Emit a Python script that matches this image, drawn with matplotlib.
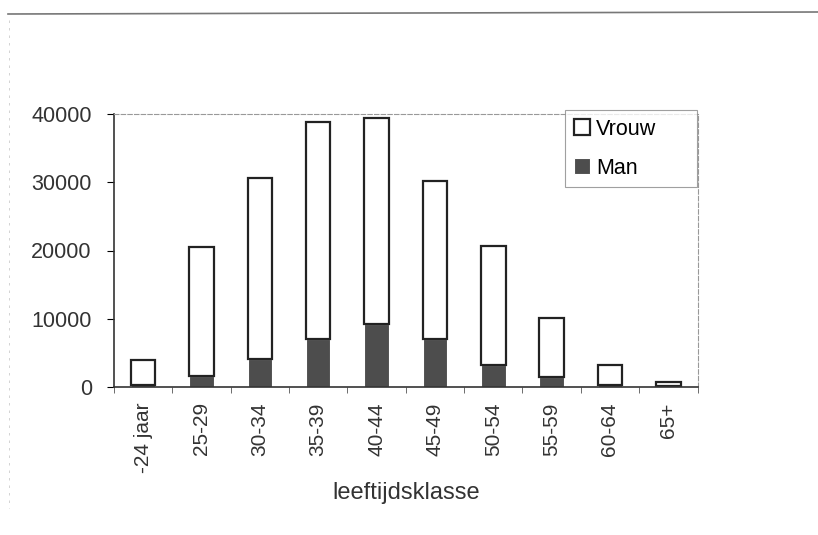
import numpy as np
import matplotlib
matplotlib.use("Agg")
import matplotlib.pyplot as plt

plt.rcParams['font.family'] = ['Liberation Sans', 'DejaVu Sans']

klassen = ['-24 jaar', '25-29', '30-34', '35-39', '40-44', '45-49',
           '50-54', '55-59', '60-64', '65+']
man = [300, 1650, 4050, 7100, 9200, 7100, 3250, 1500, 250, 150]
totaal = [3950, 20550, 30550, 38900, 39450, 30200, 20700, 10150, 3200, 700]
vrouw = [t - m for t, m in zip(totaal, man)]

fig = plt.figure(figsize=(8.18, 5.35), dpi=100)
ax = fig.add_axes([114/818, 1-387/535, (697.5-114)/818, (387-114)/535])

x = np.arange(len(klassen))
w = 0.42
ax.bar(x, man, w, color='#4d4d4d', edgecolor='white', linewidth=0.8, label='Man')
ax.bar(x, vrouw, w, bottom=man, color='white', edgecolor='#222222',
       linewidth=1.6, label='Vrouw')

ax.set_xlim(-0.5, len(klassen) - 0.5)
ax.set_ylim(0, 40000)
ax.set_yticks([0, 10000, 20000, 30000, 40000])
ax.set_xticks(x)
ax.set_xticklabels(klassen, rotation=90, fontsize=15, color='#333333')
ax.set_xticks(np.arange(-0.5, len(klassen)), minor=True)
ax.tick_params(axis='x', which='major', length=0, pad=11)
ax.tick_params(axis='x', which='minor', length=4, color='#555555')
ax.tick_params(axis='y', labelsize=15.5, labelcolor='#333333', length=5, pad=11)
ax.set_xlabel('leeftijdsklasse', fontsize=17, color='#333333', labelpad=7)

for s in ['left', 'bottom']:
    ax.spines[s].set_color('#333333')
    ax.spines[s].set_linewidth(1.2)
for s in ['top', 'right']:
    ax.spines[s].set_color('#999999')
    ax.spines[s].set_linewidth(0.8)
    ax.spines[s].set_linestyle((0, (4, 2)))

h, l = ax.get_legend_handles_labels()
leg = ax.legend(h[::-1], l[::-1], loc='upper left',
                bbox_to_anchor=(0.773, 1.015, 0.226, 0), mode='expand',
                fontsize=15.5, frameon=True, fancybox=False, handlelength=0.75,
                handleheight=0.75, handletextpad=0.3, labelspacing=0.85,
                borderpad=0.4, borderaxespad=0)
leg.get_frame().set_edgecolor('#888888')
leg.get_frame().set_linewidth(0.8)

# scanned page border
fig.add_artist(plt.Line2D([8/818, 1], [1-14/535, 1-12/535], color='#777777', lw=1.2))
fig.add_artist(plt.Line2D([9/818, 9/818], [1-20/535, 0.05], color='#cccccc', lw=0.6,
                          linestyle=(0, (3, 6))))

fig.savefig('out.png', dpi=100)
